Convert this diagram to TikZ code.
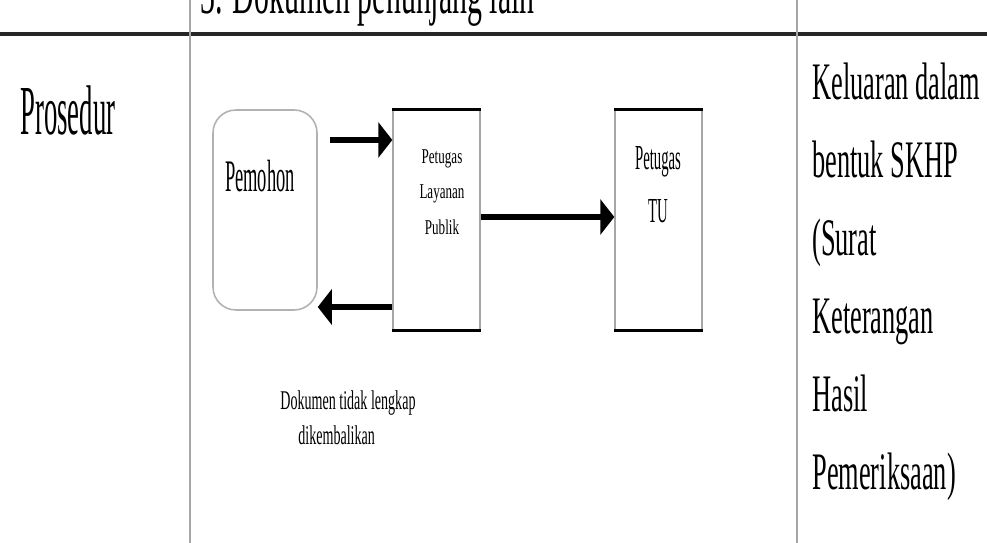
\documentclass[tikz,border=0pt]{standalone}
\usepackage{fontspec}
\setmainfont{Liberation Serif}
\usetikzlibrary{arrows.meta}
\newcommand{\slim}[2]{\scalebox{#1}[1]{#2}}
\tikzset{
  rule/.style={line width=2pt, black!85},
  col/.style={line width=1.1pt, gray!70},
  flow/.style={line width=3.4pt, -{Triangle[length=8pt,width=20pt]}},
  actor/.style={draw=gray!60, line width=0.9pt, rounded corners=13pt,
    minimum width=2.08cm, minimum height=4cm, inner sep=0},
  desk/.style={draw=gray!70, line width=0.8pt,
    minimum width=1.74cm, minimum height=4.4cm, inner sep=0},
  word/.style={inner sep=0},
}
\begin{document}
\begin{tikzpicture}[x=0.02cm, y=-0.02cm]
  \useasboundingbox (0,0) rectangle (987,543);
  %% Table
  \begin{scope}
    \clip (0,0) rectangle (987,543);
    \node[word, anchor=base west] (head) at (200,14)
      {\slim{0.5}{\fontsize{34}{40}\selectfont 3. Dokumen penunjang lain}};
  \end{scope}
  \draw[rule] (0,34) -- (987,34);
  \draw[col] (190,0) -- (190,543);
  \draw[col] (797,0) -- (797,543);
  \node[word, anchor=base west] (prosedur) at (20,135)
    {\slim{0.38}{\fontsize{40}{48}\selectfont Prosedur}};
  %% Boxes
  \node[actor] (pemohon) at (265,210) {};
  \node[desk] (plp) at (436.5,220) {};
  \node[desk] (tu) at (658.5,220) {};
  \foreach \b in {plp,tu} {
    \draw[line width=1.6pt] (\b.north west) -- (\b.north east);
    \draw[line width=1.6pt] (\b.south west) -- (\b.south east);
  }
  \node[word, anchor=base] (pemohontxt) at (260,192)
    {\slim{0.41}{\fontsize{25.7}{30}\selectfont Pemohon}};
  \node[word, anchor=north, align=center, font=\fontsize{12}{20.4}\selectfont]
    (plptxt) at (442,149)
    {\slim{0.62}{Petugas}\\ \slim{0.62}{Layanan}\\ \slim{0.62}{Publik}};
  \node[word, anchor=north, align=center, font=\fontsize{20}{30}\selectfont]
    (tutxt) at (658,146)
    {\slim{0.42}{Petugas}\\ \slim{0.42}{TU}};
  %% Flow
  \coordinate (a1) at (330,140);
  \coordinate (a2) at (480,217);
  \coordinate (a3) at (394,307);
  \draw[flow] (a1) -- (a1 -| plp.west);
  \draw[flow] (a2 -| plp.east) -- (a2 -| tu.west);
  \draw[flow] (a3 -| plp.west) -- (a3 -| pemohon.east);
  \node[word, anchor=base west] (doc1) at (280,410)
    {\slim{0.52}{\fontsize{15.4}{20}\selectfont Dokumen tidak lengkap}};
  \node[word, anchor=base west] (doc2) at (298,445)
    {\slim{0.52}{\fontsize{15.4}{20}\selectfont dikembalikan}};
  %% Output
  \foreach \t [count=\i from 0] in {Keluaran dalam, bentuk SKHP, {(Surat},
      Keterangan, Hasil, {Pemeriksaan)}}
    \node[word, anchor=base west] (out\i) at (812,100+78*\i)
      {\slim{0.5}{\fontsize{30}{36}\selectfont \t}};
\end{tikzpicture}
\end{document}
